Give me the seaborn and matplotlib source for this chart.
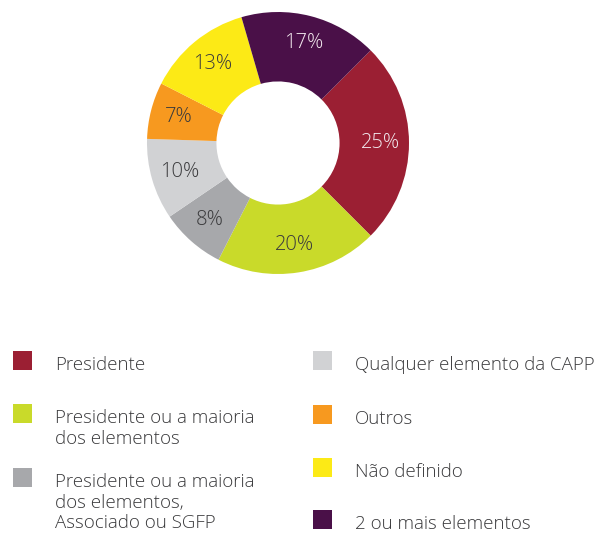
import matplotlib.pyplot as plt
import seaborn as sns
from matplotlib.patches import Rectangle

sns.set_theme(style="white")
plt.rcParams["font.family"] = ["Open Sans", "DejaVu Sans"]

# data (clockwise from the right-hand slice)
categorias = ["Presidente", "Presidente ou a maioria\ndos elementos",
              "Presidente ou a maioria\ndos elementos,\nAssociado ou SGFP",
              "Qualquer elemento da CAPP", "Outros", "Não definido",
              "2 ou mais elementos"]
valores = [25, 20, 8, 10, 7, 13, 17]
cores = ["#9B1F33", "#C9DA2A", "#A7A8AB", "#D1D2D4", "#F7991F", "#FCEA16", "#4A1048"]
cor_texto = ["#F2E9EE", "#3A3A3C", "#3A3A3C", "#3A3A3C", "#3A3A3C", "#3A3A3C", "#F2E9EE"]

W, H = 599, 536
fig = plt.figure(figsize=(W / 100, H / 100), dpi=100)

cx, cy, r = 278, 143, 131
ax = fig.add_axes([(cx - r) / W, (H - cy - r) / H, 2 * r / W, 2 * r / H])
paleta = sns.color_palette(cores)
wedges, texts, autotexts = ax.pie(
    valores, colors=paleta, startangle=45, counterclock=False,
    autopct="%d%%", pctdistance=0.785, radius=1,
    wedgeprops=dict(width=0.53, linewidth=0),
    textprops=dict(fontsize=14.5, fontweight="light"))
for t, c in zip(autotexts, cor_texto):
    t.set_color(c)
ax.set_xlim(-1, 1)
ax.set_ylim(-1, 1)
ax.set_aspect("equal")
ax.axis("off")

# legenda manual em duas colunas
colunas = [[0, 1, 2], [3, 4, 5, 6]]
x_quad = [13, 313]
y_quad = [[370, 423, 487], [370, 424, 477, 529]]
for col, idxs in enumerate(colunas):
    for k, i in enumerate(idxs):
        yb = y_quad[col][k]
        fig.add_artist(Rectangle((x_quad[col] / W, 1 - yb / H), 19 / W, 19 / H,
                                 transform=fig.transFigure, color=cores[i], lw=0))
        for j, linha in enumerate(categorias[i].split("\n")):
            fig.text((x_quad[col] + 42) / W, 1 - (yb + 20.5 * j) / H, linha,
                     ha="left", va="baseline", fontsize=13.5, fontweight="light",
                     color="#3A3A3C")

fig.savefig("out.png", dpi=100)
